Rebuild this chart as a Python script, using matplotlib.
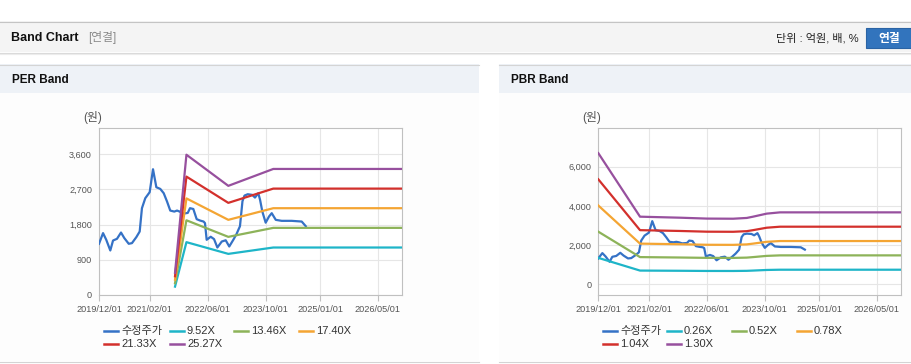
import matplotlib
matplotlib.use('Agg')
import matplotlib.pyplot as plt
import pandas as pd
from matplotlib.patches import Rectangle

plt.rcParams['font.family'] = ['Liberation Sans', 'Noto Sans CJK KR']

# 수정주가 (원)
price_dates = [
    '2019-12-01', '2020-01-04', '2020-01-31', '2020-03-05', '2020-03-28', '2020-04-30',
    '2020-06-03', '2020-07-01', '2020-08-07', '2020-09-03', '2020-10-10', '2020-11-07',
    '2020-11-26', '2020-12-24', '2021-01-30', '2021-02-27', '2021-03-27', '2021-04-29',
    '2021-05-28', '2021-06-25', '2021-07-22', '2021-08-25', '2021-09-17', '2021-10-09',
    '2021-11-06', '2021-12-16', '2022-01-04', '2022-02-01', '2022-03-01', '2022-03-29',
    '2022-04-28', '2022-05-10', '2022-05-24', '2022-06-27', '2022-07-25', '2022-08-22',
    '2022-09-28', '2022-10-31', '2022-11-30', '2023-01-03', '2023-01-30', '2023-02-28',
    '2023-03-21', '2023-04-07', '2023-05-04', '2023-06-12', '2023-07-04', '2023-08-01',
    '2023-08-16', '2023-09-04', '2023-10-02', '2023-10-30', '2023-11-22', '2023-12-26',
    '2024-02-14', '2024-05-08', '2024-07-31', '2024-09-03',
]
price_vals = [
    1310, 1583, 1412, 1139, 1394, 1437,
    1598, 1455, 1310, 1327, 1481, 1624,
    2221, 2476, 2630, 3217, 2757, 2714,
    2604, 2390, 2160, 2134, 2160, 2134,
    2080, 2100, 2221, 2200, 1940, 1905,
    1879, 1838, 1412, 1490, 1430, 1215,
    1368, 1400, 1241, 1412, 1560, 1760,
    2400, 2543, 2578, 2561, 2492, 2604,
    2433, 2134, 1850, 2007, 2093, 1922,
    1897, 1897, 1879, 1760,
]

# PER 밴드 (EPS x 배수)
per_dates = ['2021-08-31', '2021-12-05', '2022-11-22', '2023-12-05', '2026-11-21']
per_eps = [22.5, 142.0, 110.5, 127.6, 127.6]
per_multiples = [9.52, 13.46, 17.40, 21.33, 25.27]

# PBR 밴드 (BPS x 배수)
pbr_dates = ['2019-12-01', '2020-11-16', '2021-10-19', '2022-06-01', '2023-01-08',
             '2023-05-03', '2023-06-25', '2023-10-18', '2024-02-07', '2026-11-21']
pbr_bps = [5150, 2650, 2610, 2575, 2570, 2600, 2650, 2770, 2820, 2820]
pbr_multiples = [0.26, 0.52, 0.78, 1.04, 1.30]

x_tick_labels = ['2019/12/01', '2021/02/01', '2022/06/01', '2023/10/01', '2025/01/01', '2026/05/01']
per_yticks = [0, 900, 1800, 2700, 3600]
pbr_yticks = [0, 2000, 4000, 6000]

price_color = '#3572c6'
band_colors = ['#1eb5c8', '#8db359', '#f4a533', '#d3302c', '#97509e']

W, H = 912, 364


def rect(x0, y0, x1, y1):
    return [x0 / W, 1 - y1 / H, (x1 - x0) / W, (y1 - y0) / H]


fig = plt.figure(figsize=(W / 100, H / 100), dpi=100)
fig.patch.set_facecolor('white')

bg = fig.add_axes([0, 0, 1, 1])
bg.set_xlim(0, W)
bg.set_ylim(H, 0)
bg.axis('off')

# 상단 바
bg.add_patch(Rectangle((0, 21), W, 31, fc='#f4f4f4', ec='none'))
bg.plot([0, W], [21.5, 21.5], color='#c4c4c4', lw=0.8)
bg.plot([0, W], [52.5, 52.5], color='#dadada', lw=0.8)
bg.plot([0, W], [53.5, 53.5], color='#ececec', lw=0.8)
bg.text(11, 38, 'Band Chart', fontsize=9, fontweight='bold', color='#111111', va='center')
bg.text(88, 38, '[연결]', fontsize=8.5, color='#8a8a8a', va='center')
bg.text(859, 38, '단위 : 억원, 배, %', fontsize=8, color='#222222', va='center', ha='right')
bg.add_patch(Rectangle((866, 28), 46, 20, fc='#3274bd', ec='#2a63a4', lw=0.8))
bg.text(889, 39, '연결', fontsize=8.5, fontweight='bold', color='white', va='center', ha='center')

# 패널
for px0, px1, title in [(0, 479, 'PER Band'), (499, W, 'PBR Band')]:
    bg.add_patch(Rectangle((px0, 93), px1 - px0, 268, fc='#fdfdfd', ec='none'))
    bg.add_patch(Rectangle((px0, 64), px1 - px0, 29, fc='#eef2f7', ec='none'))
    bg.plot([px0, px1], [64.5, 64.5], color='#d4d4d4', lw=0.8)
    bg.plot([px0, px1], [361.5, 361.5], color='#d4d4d4', lw=0.8)
    bg.text(px0 + 12, 80, title, fontsize=8.5, fontweight='bold', color='#111111', va='center')

x_ticks = pd.to_datetime(x_tick_labels, format='%Y/%m/%d')
x_start = pd.Timestamp('2019-12-01')
x_end = pd.Timestamp('2026-11-21')
pdates = pd.to_datetime(price_dates)


def band_chart(box, band_dates, base, multiples, yticks, ylim, unit_x, leg_x):
    ax = fig.add_axes(rect(*box))
    ax.set_facecolor('white')
    bd = pd.to_datetime(band_dates)
    ax.plot(pdates, price_vals, color=price_color, lw=1.6, zorder=3)
    for m, c in zip(multiples, band_colors):
        ax.plot(bd, [b * m for b in base], color=c, lw=1.6, zorder=4)
    ax.set_xlim(x_start, x_end)
    ax.set_ylim(*ylim)
    ax.set_xticks(x_ticks)
    ax.set_xticklabels(x_tick_labels)
    ax.set_yticks(yticks)
    ax.set_yticklabels([f'{v:,}' for v in yticks])
    ax.grid(True, color='#e6e6e6', lw=0.8)
    ax.set_axisbelow(True)
    for s in ax.spines.values():
        s.set_color('#c0c0c0')
        s.set_linewidth(0.8)
    ax.tick_params(axis='x', length=4, color='#c0c0c0', labelsize=6.6, labelcolor='#555555', pad=3)
    ax.tick_params(axis='y', length=0, labelsize=6.6, labelcolor='#555555', pad=5)

    bg.text(unit_x, 117, '(원)', fontsize=8.5, color='#555555', va='center')

    labels = ['수정주가'] + [f'{m:.2f}X' for m in multiples]
    colors = [price_color] + band_colors
    leg_y = [331, 331, 331, 331, 344, 344]
    for lx, ly, lab, c in zip(leg_x, leg_y, labels, colors):
        bg.plot([lx, lx + 14], [ly, ly], color=c, lw=1.8)
        bg.text(lx + 17, ly, lab, fontsize=8, color='#333333', va='center')
    return ax


band_chart((99, 128, 402, 295), per_dates, per_eps, per_multiples,
           per_yticks, (0, 4272), 83, [104, 170, 234, 299, 104, 170])
band_chart((598.3, 128, 901, 295), pbr_dates, pbr_bps, pbr_multiples,
           pbr_yticks, (-560, 7980), 582, [603, 667, 732, 797, 603, 667])

fig.savefig('out.png', dpi=100)
